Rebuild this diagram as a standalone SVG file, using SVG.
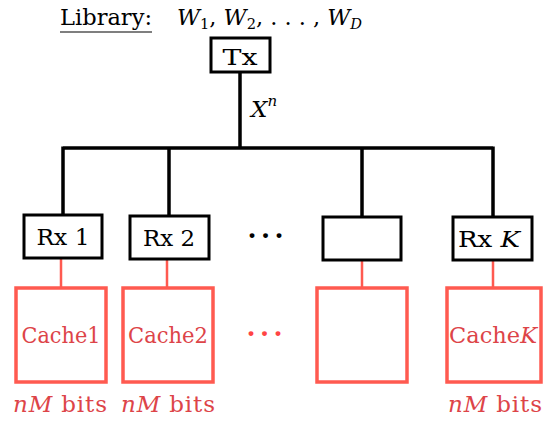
<svg xmlns="http://www.w3.org/2000/svg" width="544" height="425" viewBox="0 0 544 425">
<style>
.bk{fill:#fff;stroke:#000;stroke-width:3}
.rd{fill:#fff;stroke:#FF5A50;stroke-width:3.5}
.ln{stroke:#000;stroke-width:3.5;fill:none}
.rl{stroke:#FF5A50;stroke-width:2.5;fill:none}
.t{text-anchor:middle;fill:#000}
.r{text-anchor:middle;fill:#DD4448}
.i{font-style:italic}
.d{font-weight:bold;font-size:26px;letter-spacing:4.5px}
</style>
<rect width="544" height="425" fill="#fff"/>
<g font-family="'DejaVu Serif', serif" font-size="23">
<g id="library">
<text x="60" y="25" textLength="92" lengthAdjust="spacingAndGlyphs">Library:</text>
<line x1="60" y1="32" x2="152" y2="32" stroke="#000" stroke-width="1.2"/>
<text x="177" y="25" textLength="185" lengthAdjust="spacingAndGlyphs"><tspan class="i">W</tspan><tspan font-size="15" dy="4">1</tspan><tspan dy="-4">, </tspan><tspan class="i">W</tspan><tspan font-size="15" dy="4">2</tspan><tspan dy="-4">, . . . , </tspan><tspan class="i">W</tspan><tspan font-size="15" dy="4" class="i">D</tspan></text>
</g>
<g id="connectors">
<path class="ln" d="M240 72V148M63 148H493M63 146.5V215M169 146.5V216M362 146.5V217M493 146.5V217"/>
<path class="rl" d="M61 258V288M167 259V288M362 260V288M493 260V288"/>
</g>
<g id="xn"><text x="251" y="117" class="i">X<tspan font-size="15" dy="-11">n</tspan></text></g>
<g id="tx"><rect class="bk" x="211" y="38" width="59" height="34"/><text class="t" x="240" y="65" textLength="35" lengthAdjust="spacingAndGlyphs">Tx</text></g>
<g id="rx1"><rect class="bk" x="24" y="215" width="78" height="43"/><text class="t" x="63" y="245" textLength="53" lengthAdjust="spacingAndGlyphs">Rx 1</text></g>
<g id="rx2"><rect class="bk" x="130" y="216" width="79" height="43"/><text class="t" x="169" y="246" textLength="52" lengthAdjust="spacingAndGlyphs">Rx 2</text></g>
<g id="dots1"><text class="d" x="247.5" y="245">···</text></g>
<g id="rxe"><rect class="bk" x="323" y="217" width="78" height="43"/></g>
<g id="rxk"><rect class="bk" x="453" y="217" width="79" height="43"/><text class="t" x="489" y="247" textLength="62" lengthAdjust="spacingAndGlyphs">Rx <tspan class="i">K</tspan></text></g>
<g id="cache1"><rect class="rd" x="16" y="288" width="90" height="94"/><text class="r" x="61" y="343" textLength="79" lengthAdjust="spacingAndGlyphs">Cache1</text></g>
<g id="cache2"><rect class="rd" x="123" y="288" width="90" height="94"/><text class="r" x="168" y="343" textLength="80" lengthAdjust="spacingAndGlyphs">Cache2</text></g>
<g id="dots2"><text class="d" x="246.5" y="343" style="fill:#FF4444">···</text></g>
<g id="cachee"><rect class="rd" x="317" y="288" width="90" height="94"/></g>
<g id="cachek"><rect class="rd" x="447" y="288" width="94" height="94"/><text class="r" x="493" y="343" textLength="88" lengthAdjust="spacingAndGlyphs">Cache<tspan class="i">K</tspan></text></g>
<g id="bits">
<text class="r" x="60" y="412" textLength="94" lengthAdjust="spacing"><tspan class="i">nM</tspan> bits</text>
<text class="r" x="168" y="412" textLength="94" lengthAdjust="spacing"><tspan class="i">nM</tspan> bits</text>
<text class="r" x="495" y="412" textLength="94" lengthAdjust="spacing"><tspan class="i">nM</tspan> bits</text>
</g>
</g>
</svg>
